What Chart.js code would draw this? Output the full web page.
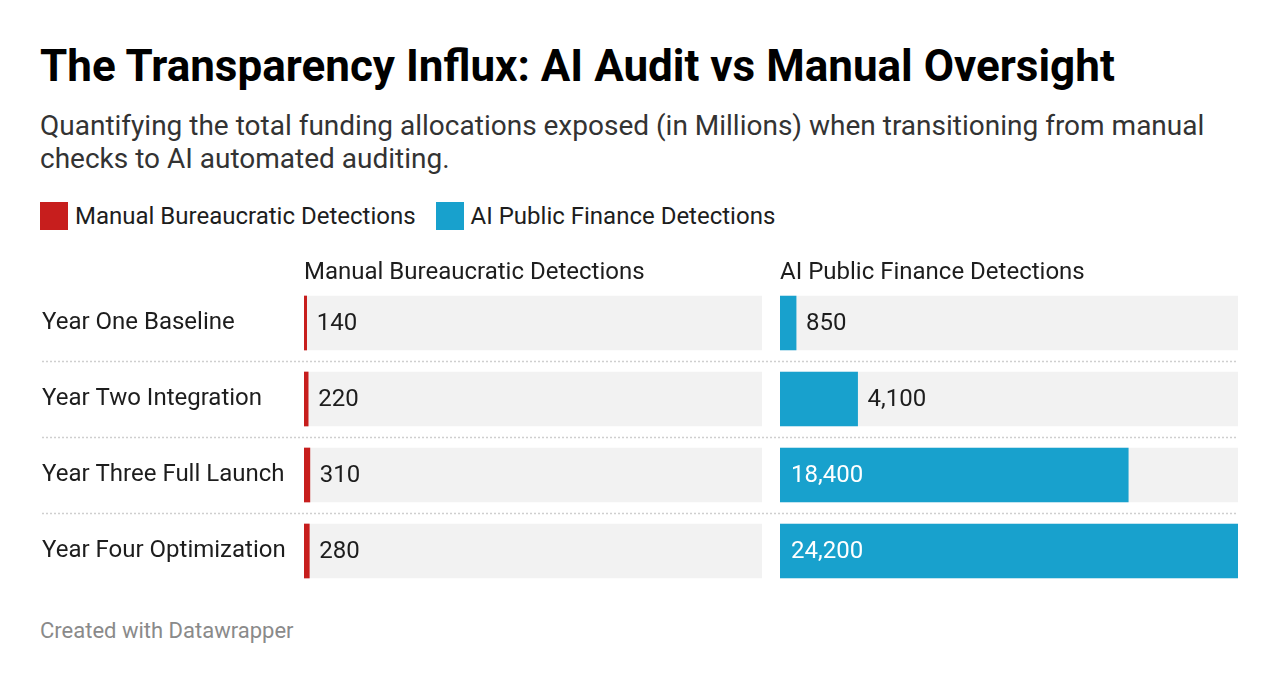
<!DOCTYPE html>
<html>
<head>
<meta charset="utf-8">
<script src="https://cdn.jsdelivr.net/npm/chart.js@4.4.1/dist/chart.umd.min.js"></script>
<style>
  html, body { margin: 0; padding: 0; background: #fff; }
  body { width: 1280px; height: 684px; position: relative; overflow: hidden; font-family: Roboto, "Noto Sans", sans-serif; color: #1d1d1d; }
  #title { position: absolute; left: 40px; top: 40px; font-size: 44px; line-height: 53px; font-weight: 700; color: #000; white-space: nowrap; }
  #subtitle { position: absolute; left: 40px; top: 109px; width: 1200px; font-size: 28px; line-height: 33px; color: #333; }
  #legend { position: absolute; left: 40px; top: 202px; height: 28px; display: flex; align-items: center; font-size: 24px; color: #1d1d1d; }
  .key { display: flex; align-items: center; margin-right: 20px; }
  .swatch { width: 28px; height: 28px; margin-right: 7px; }
  #footer { position: absolute; left: 40px; top: 618px; font-size: 22px; line-height: 26px; color: #8a8a8a; }
  .box { position: absolute; top: 256px; height: 333px; }
</style>
</head>
<body>
<div id="title">The Transparency Influx: AI Audit vs Manual Oversight</div>
<div id="subtitle">Quantifying the total funding allocations exposed (in Millions) when transitioning from manual checks to AI automated auditing.</div>
<div id="legend"></div>
<div class="box" style="left:0; width:770px;"><canvas id="manualChart"></canvas></div>
<div class="box" style="left:770px; width:510px;"><canvas id="aiChart"></canvas></div>
<div id="footer">Created with Datawrapper</div>

<script>
// data
const categories = ['Year One Baseline', 'Year Two Integration', 'Year Three Full Launch', 'Year Four Optimization'];
const seriesNames = ['Manual Bureaucratic Detections', 'AI Public Finance Detections'];
const manualValues = [140, 220, 310, 280];
const aiValues = [850, 4100, 18400, 24200];

const colors = ['#c71e1d', '#18a1cd'];
const trackColor = '#f2f2f2';
const textColor = '#1d1d1d';

// both columns share one scale, capped at the largest value
const scaleMax = Math.max(...manualValues, ...aiValues);

// legend in html
const legendEl = document.getElementById('legend');
seriesNames.forEach((name, i) => {
    const key = document.createElement('div');
    key.className = 'key';
    key.innerHTML = '<div class="swatch" style="background:' + colors[i] + '"></div><span>' + name + '</span>';
    legendEl.appendChild(key);
});

Chart.defaults.font.family = 'Roboto, "Noto Sans", sans-serif';
Chart.defaults.color = textColor;

// value labels: inside the bar in white if it fits, otherwise right after it
const valueLabels = {
    id: 'valueLabels',
    afterDatasetsDraw(chart) {
        const ctx = chart.ctx;
        const meta = chart.getDatasetMeta(1);
        const values = chart.data.datasets[1].data;
        ctx.save();
        ctx.font = '24px Roboto, "Noto Sans", sans-serif';
        ctx.textBaseline = 'middle';
        ctx.textAlign = 'left';
        meta.data.forEach((bar, i) => {
            const label = values[i].toLocaleString('en-US');
            const w = ctx.measureText(label).width;
            const barW = bar.x - bar.base;
            if (barW > w + 30) {
                ctx.fillStyle = '#ffffff';
                ctx.fillText(label, bar.base + 11, bar.y + 1);
            } else {
                ctx.fillStyle = textColor;
                ctx.fillText(label, bar.x + 10, bar.y + 1);
            }
        });
        ctx.restore();
    }
};

// dotted separators between rows, running under the row labels too
const rowRules = {
    id: 'rowRules',
    beforeDatasetsDraw(chart, args, opts) {
        const ctx = chart.ctx;
        const y = chart.scales.y;
        ctx.save();
        ctx.strokeStyle = '#cfcfcf';
        ctx.lineWidth = 1.5;
        ctx.setLineDash([2, 2]);
        for (let i = 0; i < categories.length - 1; i++) {
            const yy = Math.round((y.getPixelForValue(i) + y.getPixelForValue(i + 1)) / 2) + 0.5;
            ctx.beginPath();
            ctx.moveTo(opts.from, yy);
            ctx.lineTo(opts.to === 'right' ? chart.chartArea.right : chart.width, yy);
            ctx.stroke();
        }
        ctx.restore();
    }
};

function makeChart(canvasId, name, values, color, showLabels, padding, ruleFrom, ruleTo) {
    return new Chart(document.getElementById(canvasId), {
        type: 'bar',
        data: {
            labels: categories,
            datasets: [
                {
                    label: 'track',
                    data: categories.map(() => scaleMax),
                    backgroundColor: trackColor,
                    grouped: false,
                    order: 2,
                    barThickness: 54
                },
                {
                    label: name,
                    data: values,
                    backgroundColor: color,
                    grouped: false,
                    order: 1,
                    barThickness: 54
                }
            ]
        },
        options: {
            indexAxis: 'y',
            responsive: true,
            maintainAspectRatio: false,
            animation: false,
            layout: { padding: padding, autoPadding: false },
            plugins: {
                legend: { display: false },
                tooltip: { enabled: false },
                rowRules: { from: ruleFrom, to: ruleTo }
            },
            scales: {
                x: {
                    position: 'top',
                    min: 0,
                    max: scaleMax,
                    grid: { display: false, drawTicks: false },
                    border: { display: false },
                    ticks: { display: false },
                    title: {
                        display: true,
                        text: name,
                        align: 'start',
                        color: textColor,
                        font: { size: 24, lineHeight: 1.0 },
                        padding: { top: 5, bottom: 0 }
                    }
                },
                y: {
                    display: showLabels,
                    grid: { display: false, drawTicks: false },
                    border: { display: false },
                    ticks: {
                        crossAlign: 'far',
                        padding: 0,
                        color: textColor,
                        font: { size: 24 }
                    },
                    afterFit(scale) {
                        // keep both columns on the same row grid
                        scale.paddingTop = 0;
                        scale.paddingBottom = 0;
                        if (showLabels) scale.width = 262;
                    }
                }
            }
        },
        plugins: [rowRules, valueLabels]
    });
}

makeChart('manualChart', seriesNames[0], manualValues, colors[0], true, { left: 42, right: 8, top: 0, bottom: 0 }, 42, 'canvas');
makeChart('aiChart', seriesNames[1], aiValues, colors[1], false, { left: 10, right: 42, top: 0, bottom: 0 }, 0, 'right');
</script>
</body>
</html>
